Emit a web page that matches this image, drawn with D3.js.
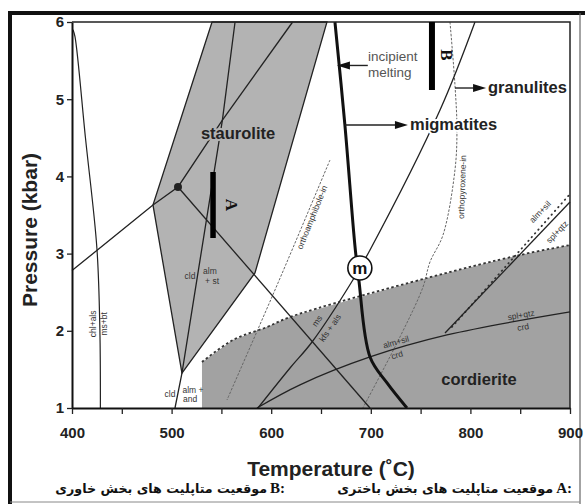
<!DOCTYPE html>
<html><head><meta charset="utf-8">
<script src="https://cdn.jsdelivr.net/npm/d3@7"></script>
<style>body{margin:0;background:#fff}svg{display:block}</style>
</head><body>
<svg id="c" width="585" height="504"></svg>
<script>
// ---- data (temperature °C, pressure kbar) ----
const xTicks = [400,500,600,700,800,900];
const xMinorTicks = [450,550,650,750,850];
const yTicks = [1,2,3,4,5,6];

const stauroliteField = [[540.6,6.0],[481.3,3.63],[510.4,1.453],[583.7,2.749],[656,6.0]];
const cordieriteLimit = [[530.5,1.596],[561.6,1.881],[595.8,2.049],[619,2.179],[756.4,2.684],[849.8,2.982],[900,3.111]];
const cordieriteBase = [[900,1.0],[530.5,1.0]];
const chlAlsCurve = [[401,5.9],[403,5.81],[413.5,4.5],[425,3.07],[428,2.0],[428.5,1.0]];
const leftReaction = [[400,2.78],[481.3,3.63],[506.4,3.863],[551,4.73]];
const cldStReaction = [[503.4,1.0],[510.4,1.453],[551,4.73],[563.7,6.0]];
const stBranch = [[551,4.73],[621.5,6.0]];
const dotReaction = [[506.4,3.863],[699.2,1.0]];
const splQtzCrd = [[585.7,1.0],[628.9,1.30],[699.2,1.661],[776.5,1.946],[900,2.244]];
const msReaction = [[586.7,1.0],[618.9,1.518],[641,1.855],[682,2.658],[699.2,3.047],[769.5,4.86],[804.6,6.0]];
const meltingCurve = [[664,6.0],[674,4.666],[684,3.111],[688,2.658],[699.2,1.661],[716.3,1.324],[736.3,1.0]];
const orthoamphiboleIn = [[659,4.212],[606.8,2.619],[555.6,1.104]];
const orthopyroxeneIn = [[779.5,6.0],[784.5,5.184],[786.5,4.601],[784.5,4.083],[772.5,3.241],[759.4,2.891],[752.4,2.567],[729.3,1.92],[692,1.0]];
const almSilSolid = [[774.5,1.972],[900,3.668]];
const almSilDotted = [[781.5,2.049],[900,3.772]];
const barA = [[541.6,4.057],[541.6,3.202]];
const barB = [[761.4,6.0],[761.4,5.119]];
const invariantPoint = [506.4,3.863];
const mPoint = [689,2.813];

const bigLabels = [
  {t:"staurolite", T:566.7, P:4.49, a:"middle", halo:"#b3b3b3"},
  {t:"cordierite", T:808.6, P:1.298, a:"middle", halo:null},
  {t:"migmatites", T:739.4, P:4.601, a:"start", halo:"#fff"},
  {t:"granulites", T:817.7, P:5.08, a:"start", halo:"#fff"}
];
const meltLabels = [{t:"incipient", T:697.2, P:5.49},{t:"melting", T:697.2, P:5.29}];
const arrows = [
  {from:[674,4.666], to:[737.3,4.666]},
  {from:[784.5,5.145], to:[815.7,5.145]},
  {from:[697,5.437], to:[666,5.437]}
];
const smallLabels = [
  {t:"chl+als", T:421, P:2.09, r:-90},
  {t:"ms+bt", T:432.5, P:2.09, r:-90},
  {t:"orthoamphibole-in", T:641, P:3.47, r:-68},
  {t:"orthopyroxene-in", T:791.6, P:3.863, r:-88},
  {t:"ms", T:646, P:2.127, r:-55},
  {t:"kfs + als", T:659, P:2.036, r:-55},
  {t:"alm+sil", T:725.3, P:1.855, r:-16},
  {t:"crd", T:726.3, P:1.687, r:-16},
  {t:"spl+qtz", T:850.8, P:2.205, r:-10},
  {t:"crd", T:852.8, P:2.049, r:-10},
  {t:"alm+sil", T:870, P:3.54, r:-46},
  {t:"spl+qtz", T:887, P:3.28, r:-46},
  {t:"cld", T:518.5, P:2.71, r:0},
  {t:"alm", T:538.5, P:2.775, r:0},
  {t:"+ st", T:540.6, P:2.645, r:0},
  {t:"cld", T:498.4, P:1.18, r:0},
  {t:"alm +", T:521.5, P:1.233, r:0},
  {t:"and", T:518.5, P:1.117, r:0}
];
const barLabels = [{t:"A", T:560.6, P:3.63},{t:"B", T:776.5, P:5.573}];
const captions = [
  {k:"A:", t:"موقعیت متاپلیت های بخش باختری", right:572, width:235},
  {k:"B:", t:"موقعیت متاپلیت های بخش خاوری", right:285, width:230}
];

// ---- drawing ----
const svg = d3.select('#c');
const x = d3.scaleLinear().domain([400,900]).range([72,570]);
const y = d3.scaleLinear().domain([1,6]).range([408,22]);
const straight = d3.line().x(d=>x(d[0])).y(d=>y(d[1]));
const smooth = d3.line().x(d=>x(d[0])).y(d=>y(d[1])).curve(d3.curveCatmullRom.alpha(0.5));
const SANS = "'Liberation Sans', Arial, sans-serif";

// outer frame
svg.append('line').attr('x1',10).attr('y1',11).attr('x2',10).attr('y2',504).attr('stroke','#111').attr('stroke-width',4);
svg.append('line').attr('x1',8).attr('y1',13).attr('x2',585).attr('y2',13).attr('stroke','#111').attr('stroke-width',4);
svg.append('line').attr('x1',580).attr('y1',13).attr('x2',580).attr('y2',504).attr('stroke','#666').attr('stroke-width',1.2);
svg.append('line').attr('x1',10).attr('y1',502).attr('x2',580).attr('y2',502).attr('stroke','#888').attr('stroke-width',1);

// fields
svg.append('path').attr('d', straight(cordieriteLimit.concat(cordieriteBase))+'Z').attr('fill','#a2a2a2');
svg.append('path').attr('d', straight(stauroliteField)+'Z').attr('fill','#b3b3b3').attr('stroke','#222').attr('stroke-width',1.3);
svg.append('path').attr('d', smooth(cordieriteLimit)).attr('fill','none').attr('stroke','#333').attr('stroke-width',1.8).attr('stroke-dasharray','2.5,2.5');

// dotted index lines
[orthoamphiboleIn, orthopyroxeneIn].forEach(d=>{
  svg.append('path').attr('d', smooth(d)).attr('fill','none').attr('stroke','#666').attr('stroke-width',1).attr('stroke-dasharray','2.5,1.5');
});
svg.append('path').attr('d', straight(almSilDotted)).attr('fill','none').attr('stroke','#333').attr('stroke-width',1.8)
  .attr('stroke-linecap','round').attr('stroke-dasharray','0.5,4.5');

// reaction lines
[[chlAlsCurve,true,1.2],[leftReaction,false,1.3],[cldStReaction,false,1.3],[stBranch,false,1.3],[dotReaction,false,1.3],
 [splQtzCrd,true,1.3],[msReaction,true,1.3],[almSilSolid,false,1.3]].forEach(([d,s,w])=>{
  svg.append('path').attr('d',(s?smooth:straight)(d)).attr('fill','none').attr('stroke','#222').attr('stroke-width',w);
});
svg.append('path').attr('d', smooth(meltingCurve)).attr('fill','none').attr('stroke','#111').attr('stroke-width',3);

// axes
const xAxis = svg.append('g').attr('transform',`translate(0,${y(1)})`)
  .call(d3.axisBottom(x).tickValues(xTicks.concat(xMinorTicks)).tickSize(6).tickSizeOuter(0).tickFormat(d=> xTicks.includes(d)? d : ''));
const yAxis = svg.append('g').attr('transform',`translate(${x(400)},0)`)
  .call(d3.axisLeft(y).tickValues(yTicks).tickSize(5).tickSizeOuter(0).tickFormat(d3.format('d')));
[xAxis,yAxis].forEach(g=>{
  g.select('.domain').attr('stroke','#111').attr('stroke-width',2);
  g.selectAll('.tick line').attr('stroke','#222').attr('stroke-width',1.3);
  g.selectAll('text').attr('font-family',SANS).attr('font-weight','bold').attr('font-size',15).attr('fill','#222');
});
xAxis.selectAll('text').attr('y',30).attr('dy',0);
yAxis.selectAll('text').attr('x',-8);
svg.append('path').attr('d', straight([[400,6],[900,6],[900,1]])).attr('fill','none').attr('stroke','#222').attr('stroke-width',1.5);

// bars
[barA, barB].forEach((d,i)=>{
  svg.append('path').attr('d', straight(d)).attr('stroke','#000').attr('stroke-width', i?6:5.5);
});
barLabels.forEach(l=>{
  svg.append('text').attr('transform',`translate(${x(l.T)},${y(l.P)}) rotate(90)`)
    .attr('text-anchor','middle').attr('dominant-baseline','central')
    .attr('font-family',"'Liberation Serif', 'Times New Roman', serif").attr('font-weight','bold').attr('font-size',17).attr('fill','#111').text(l.t);
});

// invariant dot
svg.append('circle').attr('cx',x(invariantPoint[0])).attr('cy',y(invariantPoint[1])).attr('r',4).attr('fill','#222');

// arrows
arrows.forEach(a=>{
  const x1=x(a.from[0]), y1=y(a.from[1]), x2=x(a.to[0]), y2=y(a.to[1]);
  const dir = Math.sign(x2-x1);
  svg.append('line').attr('x1',x1).attr('y1',y1).attr('x2',x2-dir*8).attr('y2',y2).attr('stroke','#222').attr('stroke-width',1.4);
  svg.append('path').attr('d',`M${x2},${y2}L${x2-dir*13},${y2-4}L${x2-dir*13},${y2+4}Z`).attr('fill','#111');
});

// labels
bigLabels.forEach(l=>{
  const t = svg.append('text').attr('x',x(l.T)).attr('y',y(l.P)).attr('text-anchor',l.a)
    .attr('font-family',SANS).attr('font-weight','bold').attr('font-size',16.5).attr('fill','#222').text(l.t);
  if(l.halo) t.attr('stroke',l.halo).attr('stroke-width',4).attr('paint-order','stroke').attr('stroke-linejoin','round');
});
meltLabels.forEach(l=>{
  svg.append('text').attr('x',x(l.T)).attr('y',y(l.P)).attr('font-family',SANS).attr('font-size',13.5).attr('fill','#555').text(l.t);
});
smallLabels.forEach(l=>{
  svg.append('text').attr('transform',`translate(${x(l.T)},${y(l.P)}) rotate(${l.r})`)
    .attr('text-anchor','middle').attr('dominant-baseline','central')
    .attr('font-family',SANS).attr('font-size',8.5).attr('fill','#333').text(l.t);
});

// m point
svg.append('circle').attr('cx',x(mPoint[0])).attr('cy',y(mPoint[1])).attr('r',12).attr('fill','#fff').attr('stroke','#111').attr('stroke-width',1.6);
svg.append('text').attr('x',x(mPoint[0])).attr('y',y(mPoint[1])).attr('text-anchor','middle').attr('dominant-baseline','central')
  .attr('font-family',SANS).attr('font-weight','bold').attr('font-size',17).attr('fill','#111').text('m');

// axis titles
svg.append('text').attr('transform','translate(37,230) rotate(-90)').attr('text-anchor','middle')
  .attr('font-family',SANS).attr('font-weight','bold').attr('font-size',21).attr('fill','#222').text('Pressure (kbar)');
svg.append('text').attr('x',331).attr('y',476).attr('text-anchor','middle')
  .attr('font-family',SANS).attr('font-weight','bold').attr('font-size',21).attr('fill','#222').text('Temperature (˚C)');

// captions
captions.forEach(c=>{
  const k = svg.append('text').attr('x',c.right).attr('y',493).attr('text-anchor','end')
    .attr('font-family',"'Liberation Serif', serif").attr('font-weight','bold').attr('font-size',15).attr('fill','#111').text(c.k);
  const kw = k.node().getComputedTextLength();
  const p = svg.append('text').attr('x',c.right-kw-3).attr('y',493).attr('text-anchor','end')
    .attr('font-family',"'DejaVu Sans', 'Noto Sans', sans-serif").attr('font-weight','bold').attr('font-size',13).attr('fill','#111').text(c.t);
  const pw = p.node().getComputedTextLength();
  const target = c.width - kw - 3;
  p.attr('font-size', Math.max(9, Math.min(16, 13*target/pw)));
});
</script>
</body></html>
